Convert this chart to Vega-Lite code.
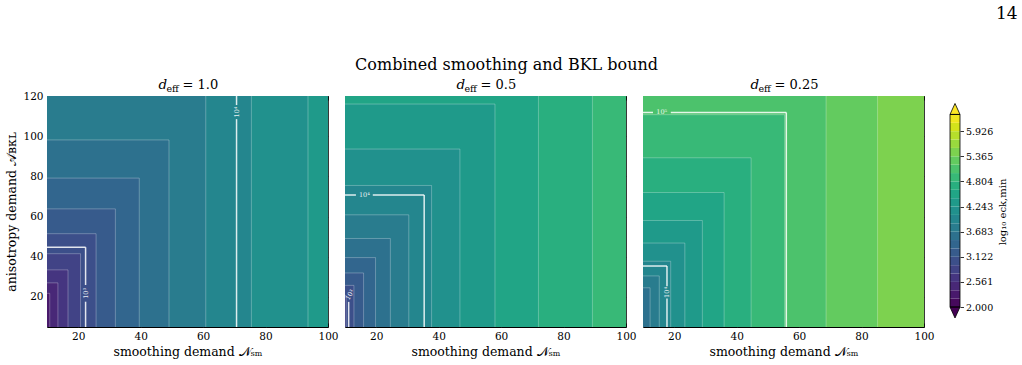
{
  "$schema": "https://vega.github.io/schema/vega-lite/v6.json",
  "background": "white",
  "title": {"text": "14", "anchor": "end", "fontSize": 17, "font": "DejaVu Serif", "fontWeight": "normal", "offset": 34, "dx": 10},
  "config": {
    "font": "DejaVu Serif",
    "view": {"stroke": "black", "strokeWidth": 1},
    "axis": {
      "domain": false,
      "labelFlush": false,
      "labelOverlap": false,
      "tickColor": "black",
      "tickSize": -4,
      "tickWidth": 0.8,
      "labelFont": "DejaVu Serif",
      "labelFontSize": 10.5,
      "labelColor": "black",
      "labelPadding": 8,
      "titleFont": "DejaVu Serif",
      "titleFontSize": 12.5,
      "titleFontWeight": "normal",
      "titleColor": "black",
      "gridColor": "white",
      "gridOpacity": 0.28,
      "gridWidth": 0.8,
      "zindex": 1
    }
  },
  "datasets": {
    "bands": [
      {"p": 1, "n": 100, "a": 120, "v": 4.337},
      {"p": 1, "n": 93.59, "a": 187.2, "v": 4.150},
      {"p": 1, "n": 75.46, "a": 150.9, "v": 3.963},
      {"p": 1, "n": 60.85, "a": 121.7, "v": 3.776},
      {"p": 1, "n": 49.07, "a": 98.13, "v": 3.589},
      {"p": 1, "n": 39.56, "a": 79.13, "v": 3.402},
      {"p": 1, "n": 31.90, "a": 63.81, "v": 3.215},
      {"p": 1, "n": 25.72, "a": 51.45, "v": 3.028},
      {"p": 1, "n": 20.74, "a": 41.49, "v": 2.841},
      {"p": 1, "n": 16.73, "a": 33.45, "v": 2.654},
      {"p": 1, "n": 13.49, "a": 26.98, "v": 2.467},
      {"p": 1, "n": 10.88, "a": 21.75, "v": 2.280},
      {"p": 2, "n": 100, "a": 120, "v": 4.898},
      {"p": 2, "n": 89.25, "a": 178.5, "v": 4.711},
      {"p": 2, "n": 71.96, "a": 143.9, "v": 4.524},
      {"p": 2, "n": 58.03, "a": 116.0, "v": 4.337},
      {"p": 2, "n": 46.80, "a": 93.59, "v": 4.150},
      {"p": 2, "n": 37.73, "a": 75.46, "v": 3.963},
      {"p": 2, "n": 30.43, "a": 60.85, "v": 3.776},
      {"p": 2, "n": 24.53, "a": 49.07, "v": 3.589},
      {"p": 2, "n": 19.78, "a": 39.56, "v": 3.402},
      {"p": 2, "n": 15.95, "a": 31.90, "v": 3.215},
      {"p": 2, "n": 12.86, "a": 25.72, "v": 3.028},
      {"p": 2, "n": 10.37, "a": 20.74, "v": 2.841},
      {"p": 3, "n": 100, "a": 120, "v": 5.459},
      {"p": 3, "n": 85.13, "a": 170.3, "v": 5.272},
      {"p": 3, "n": 68.64, "a": 137.3, "v": 5.085},
      {"p": 3, "n": 55.36, "a": 110.7, "v": 4.898},
      {"p": 3, "n": 44.63, "a": 89.25, "v": 4.711},
      {"p": 3, "n": 35.98, "a": 71.96, "v": 4.524},
      {"p": 3, "n": 29.01, "a": 58.03, "v": 4.337},
      {"p": 3, "n": 23.40, "a": 46.80, "v": 4.150},
      {"p": 3, "n": 18.87, "a": 37.73, "v": 3.963},
      {"p": 3, "n": 15.21, "a": 30.43, "v": 3.776},
      {"p": 3, "n": 12.27, "a": 24.53, "v": 3.589}
    ],
    "decades": [
      {"p": 1, "x1": 10, "x2": 22.36, "y1": 44.72, "y2": 44.72},
      {"p": 1, "x1": 22.36, "x2": 22.36, "y1": 44.72, "y2": 25.9},
      {"p": 1, "x1": 22.36, "x2": 22.36, "y1": 17.6, "y2": 5},
      {"p": 1, "x1": 70.71, "x2": 70.71, "y1": 120, "y2": 115.5},
      {"p": 1, "x1": 70.71, "x2": 70.71, "y1": 108.5, "y2": 5},
      {"p": 2, "x1": 11.18, "x2": 11.18, "y1": 17.5, "y2": 5},
      {"p": 2, "x1": 10, "x2": 13.5, "y1": 70.71, "y2": 70.71},
      {"p": 2, "x1": 18.9, "x2": 35.36, "y1": 70.71, "y2": 70.71},
      {"p": 2, "x1": 35.36, "x2": 35.36, "y1": 70.71, "y2": 5},
      {"p": 3, "x1": 10, "x2": 17.68, "y1": 35.36, "y2": 35.36},
      {"p": 3, "x1": 17.68, "x2": 17.68, "y1": 35.36, "y2": 25.3},
      {"p": 3, "x1": 17.68, "x2": 17.68, "y1": 19.2, "y2": 5},
      {"p": 3, "x1": 10, "x2": 13.2, "y1": 111.8, "y2": 111.8},
      {"p": 3, "x1": 18.9, "x2": 55.9, "y1": 111.8, "y2": 111.8},
      {"p": 3, "x1": 55.9, "x2": 55.9, "y1": 111.8, "y2": 5}
    ],
    "clabels": [
      {"p": 1, "n": 22.36, "a": 21.75, "t": "10³", "dir": "v"},
      {"p": 1, "n": 70.71, "a": 112, "t": "10⁴", "dir": "v"},
      {"p": 2, "n": 11.6, "a": 21, "t": "10³", "dir": "d"},
      {"p": 2, "n": 16.2, "a": 70.71, "t": "10⁴", "dir": "h"},
      {"p": 3, "n": 17.68, "a": 22.2, "t": "10⁴", "dir": "v"},
      {"p": 3, "n": 16, "a": 111.8, "t": "10⁵", "dir": "h"}
    ],
    "cbar": [
      {"lo": 2.0000, "hi": 2.1870, "v": 2.0935},
      {"lo": 2.1870, "hi": 2.3739, "v": 2.2804},
      {"lo": 2.3739, "hi": 2.5609, "v": 2.4674},
      {"lo": 2.5609, "hi": 2.7478, "v": 2.6543},
      {"lo": 2.7478, "hi": 2.9348, "v": 2.8413},
      {"lo": 2.9348, "hi": 3.1217, "v": 3.0283},
      {"lo": 3.1217, "hi": 3.3087, "v": 3.2152},
      {"lo": 3.3087, "hi": 3.4957, "v": 3.4022},
      {"lo": 3.4957, "hi": 3.6826, "v": 3.5891},
      {"lo": 3.6826, "hi": 3.8696, "v": 3.7761},
      {"lo": 3.8696, "hi": 4.0565, "v": 3.9630},
      {"lo": 4.0565, "hi": 4.2434, "v": 4.1500},
      {"lo": 4.2434, "hi": 4.4304, "v": 4.3370},
      {"lo": 4.4304, "hi": 4.6174, "v": 4.5239},
      {"lo": 4.6174, "hi": 4.8043, "v": 4.7109},
      {"lo": 4.8043, "hi": 4.9913, "v": 4.8978},
      {"lo": 4.9913, "hi": 5.1783, "v": 5.0848},
      {"lo": 5.1783, "hi": 5.3652, "v": 5.2717},
      {"lo": 5.3652, "hi": 5.5522, "v": 5.4587},
      {"lo": 5.5522, "hi": 5.7391, "v": 5.6457},
      {"lo": 5.7391, "hi": 5.9261, "v": 5.8326},
      {"lo": 5.9261, "hi": 6.1130, "v": 6.0196},
      {"lo": 6.1130, "hi": 6.3000, "v": 6.2065}
    ],
    "tri_top": [{"x": 0, "t": 6.3}, {"x": 0.5, "t": 6.545}, {"x": 1, "t": 6.3}],
    "tri_bot": [{"x": 0, "t": 2.0}, {"x": 0.5, "t": 1.755}, {"x": 1, "t": 2.0}]
  },
  "hconcat": [
    {
      "title": {"text": "Combined smoothing and BKL bound", "anchor": "middle", "fontSize": 16, "font": "DejaVu Serif", "fontWeight": "normal", "offset": 4.5},
      "spacing": 13,
      "bounds": "full",
      "hconcat": [
        {
          "spacing": 17,
          "bounds": "flush",
          "hconcat": [
            {
              "width": 281, "height": 231,
              "resolve": {"axis": {"x": "independent", "y": "independent"}},
              "layer": [
                {
                  "data": {"name": "bands"},
                  "transform": [{"filter": "datum.p == 1"}],
                  "mark": {"type": "rect", "clip": true},
                  "encoding": {
                    "x": {"field": "n", "type": "quantitative", "scale": {"domain": [10, 100], "nice": false, "zero": false}, "axis": {"orient": "bottom", "values": [20, 40, 60, 80, 100], "grid": true, "title": "smoothing demand 𝒩ₛₘ"}},
                    "x2": {"datum": 10},
                    "y": {"field": "a", "type": "quantitative", "scale": {"domain": [5, 120], "nice": false, "zero": false}, "axis": {"orient": "left", "values": [20, 40, 60, 80, 100, 120], "grid": true, "title": "anisotropy demand 𝒜ʙᴋʟ"}},
                    "y2": {"datum": 5},
                    "color": {"field": "v", "type": "quantitative", "scale": {"scheme": "viridis", "domain": [2, 6.3]}, "legend": null}
                  }
                },
                {
                  "data": {"name": "bands"},
                  "transform": [{"filter": "datum.p == 1 && datum.n < 100"}],
                  "mark": {"type": "rule", "clip": true, "color": "white", "opacity": 0.35, "strokeWidth": 0.8},
                  "encoding": {
                    "x": {"field": "n", "type": "quantitative", "scale": {"domain": [10, 100], "nice": false, "zero": false}, "axis": {"orient": "top", "values": [20, 40, 60, 80, 100], "labels": false, "grid": false, "title": null}},
                    "x2": {"datum": 10},
                    "y": {"field": "a", "type": "quantitative", "scale": {"domain": [5, 120], "nice": false, "zero": false}, "axis": {"orient": "right", "values": [20, 40, 60, 80, 100, 120], "labels": false, "grid": false, "title": null}}
                  }
                },
                {
                  "data": {"name": "bands"},
                  "transform": [{"filter": "datum.p == 1 && datum.n < 100"}],
                  "mark": {"type": "rule", "clip": true, "color": "white", "opacity": 0.35, "strokeWidth": 0.8},
                  "encoding": {
                    "x": {"field": "n", "type": "quantitative", "scale": {"domain": [10, 100], "nice": false, "zero": false}, "axis": null},
                    "y": {"field": "a", "type": "quantitative", "scale": {"domain": [5, 120], "nice": false, "zero": false}, "axis": null},
                    "y2": {"datum": 5}
                  }
                },
                {
                  "data": {"name": "decades"},
                  "transform": [{"filter": "datum.p == 1"}],
                  "mark": {"type": "rule", "clip": true, "color": "white", "opacity": 0.85, "strokeWidth": 1.5},
                  "encoding": {
                    "x": {"field": "x1", "type": "quantitative", "scale": {"domain": [10, 100], "nice": false, "zero": false}, "axis": null},
                    "x2": {"field": "x2"},
                    "y": {"field": "y1", "type": "quantitative", "scale": {"domain": [5, 120], "nice": false, "zero": false}, "axis": null},
                    "y2": {"field": "y2"}
                  }
                },
                {
                  "data": {"name": "clabels"},
                  "transform": [{"filter": "datum.p == 1 && datum.dir == 'v'"}],
                  "mark": {"type": "text", "color": "white", "opacity": 0.9, "fontSize": 6.5, "angle": 270, "align": "center", "baseline": "middle"},
                  "encoding": {
                    "x": {"field": "n", "type": "quantitative", "scale": {"domain": [10, 100], "nice": false, "zero": false}, "axis": null},
                    "y": {"field": "a", "type": "quantitative", "scale": {"domain": [5, 120], "nice": false, "zero": false}, "axis": null},
                    "text": {"field": "t"}
                  }
                },
                {
                  "data": {"values": [{"t": "d", "cx": 55, "cy": 120}]},
                  "mark": {"type": "text", "fontSize": 13.5, "fontStyle": "italic", "align": "left", "baseline": "alphabetic", "dx": -29, "dy": -7},
                  "encoding": {
                    "x": {"field": "cx", "type": "quantitative", "scale": {"domain": [10, 100], "nice": false, "zero": false}, "axis": null},
                    "y": {"field": "cy", "type": "quantitative", "scale": {"domain": [5, 120], "nice": false, "zero": false}, "axis": null},
                    "text": {"field": "t"}
                  }
                },
                {
                  "data": {"values": [{"t": "eff", "cx": 55, "cy": 120}]},
                  "mark": {"type": "text", "fontSize": 9.5, "align": "left", "baseline": "alphabetic", "dx": -21, "dy": -4},
                  "encoding": {
                    "x": {"field": "cx", "type": "quantitative", "scale": {"domain": [10, 100], "nice": false, "zero": false}, "axis": null},
                    "y": {"field": "cy", "type": "quantitative", "scale": {"domain": [5, 120], "nice": false, "zero": false}, "axis": null},
                    "text": {"field": "t"}
                  }
                },
                {
                  "data": {"values": [{"t": "= 1.0", "cx": 55, "cy": 120}]},
                  "mark": {"type": "text", "fontSize": 13, "align": "left", "baseline": "alphabetic", "dx": -5, "dy": -7},
                  "encoding": {
                    "x": {"field": "cx", "type": "quantitative", "scale": {"domain": [10, 100], "nice": false, "zero": false}, "axis": null},
                    "y": {"field": "cy", "type": "quantitative", "scale": {"domain": [5, 120], "nice": false, "zero": false}, "axis": null},
                    "text": {"field": "t"}
                  }
                }
              ]
            },
            {
              "width": 281, "height": 231,
              "resolve": {"axis": {"x": "independent", "y": "independent"}},
              "layer": [
                {
                  "data": {"name": "bands"},
                  "transform": [{"filter": "datum.p == 2"}],
                  "mark": {"type": "rect", "clip": true},
                  "encoding": {
                    "x": {"field": "n", "type": "quantitative", "scale": {"domain": [10, 100], "nice": false, "zero": false}, "axis": {"orient": "bottom", "values": [20, 40, 60, 80, 100], "grid": true, "title": "smoothing demand 𝒩ₛₘ"}},
                    "x2": {"datum": 10},
                    "y": {"field": "a", "type": "quantitative", "scale": {"domain": [5, 120], "nice": false, "zero": false}, "axis": {"orient": "left", "values": [20, 40, 60, 80, 100, 120], "grid": true, "labels": false, "title": null}},
                    "y2": {"datum": 5},
                    "color": {"field": "v", "type": "quantitative", "scale": {"scheme": "viridis", "domain": [2, 6.3]}, "legend": null}
                  }
                },
                {
                  "data": {"name": "bands"},
                  "transform": [{"filter": "datum.p == 2 && datum.n < 100"}],
                  "mark": {"type": "rule", "clip": true, "color": "white", "opacity": 0.35, "strokeWidth": 0.8},
                  "encoding": {
                    "x": {"field": "n", "type": "quantitative", "scale": {"domain": [10, 100], "nice": false, "zero": false}, "axis": {"orient": "top", "values": [20, 40, 60, 80, 100], "labels": false, "grid": false, "title": null}},
                    "x2": {"datum": 10},
                    "y": {"field": "a", "type": "quantitative", "scale": {"domain": [5, 120], "nice": false, "zero": false}, "axis": {"orient": "right", "values": [20, 40, 60, 80, 100, 120], "labels": false, "grid": false, "title": null}}
                  }
                },
                {
                  "data": {"name": "bands"},
                  "transform": [{"filter": "datum.p == 2 && datum.n < 100"}],
                  "mark": {"type": "rule", "clip": true, "color": "white", "opacity": 0.35, "strokeWidth": 0.8},
                  "encoding": {
                    "x": {"field": "n", "type": "quantitative", "scale": {"domain": [10, 100], "nice": false, "zero": false}, "axis": null},
                    "y": {"field": "a", "type": "quantitative", "scale": {"domain": [5, 120], "nice": false, "zero": false}, "axis": null},
                    "y2": {"datum": 5}
                  }
                },
                {
                  "data": {"name": "decades"},
                  "transform": [{"filter": "datum.p == 2"}],
                  "mark": {"type": "rule", "clip": true, "color": "white", "opacity": 0.85, "strokeWidth": 1.5},
                  "encoding": {
                    "x": {"field": "x1", "type": "quantitative", "scale": {"domain": [10, 100], "nice": false, "zero": false}, "axis": null},
                    "x2": {"field": "x2"},
                    "y": {"field": "y1", "type": "quantitative", "scale": {"domain": [5, 120], "nice": false, "zero": false}, "axis": null},
                    "y2": {"field": "y2"}
                  }
                },
                {
                  "data": {"name": "clabels"},
                  "transform": [{"filter": "datum.p == 2 && datum.dir == 'h'"}],
                  "mark": {"type": "text", "color": "white", "opacity": 0.9, "fontSize": 6.5, "angle": 0, "align": "center", "baseline": "middle"},
                  "encoding": {
                    "x": {"field": "n", "type": "quantitative", "scale": {"domain": [10, 100], "nice": false, "zero": false}, "axis": null},
                    "y": {"field": "a", "type": "quantitative", "scale": {"domain": [5, 120], "nice": false, "zero": false}, "axis": null},
                    "text": {"field": "t"}
                  }
                },
                {
                  "data": {"name": "clabels"},
                  "transform": [{"filter": "datum.p == 2 && datum.dir == 'd'"}],
                  "mark": {"type": "text", "color": "white", "opacity": 0.9, "fontSize": 6.5, "angle": 300, "align": "center", "baseline": "middle"},
                  "encoding": {
                    "x": {"field": "n", "type": "quantitative", "scale": {"domain": [10, 100], "nice": false, "zero": false}, "axis": null},
                    "y": {"field": "a", "type": "quantitative", "scale": {"domain": [5, 120], "nice": false, "zero": false}, "axis": null},
                    "text": {"field": "t"}
                  }
                },
                {
                  "data": {"values": [{"t": "d", "cx": 55, "cy": 120}]},
                  "mark": {"type": "text", "fontSize": 13.5, "fontStyle": "italic", "align": "left", "baseline": "alphabetic", "dx": -29, "dy": -7},
                  "encoding": {
                    "x": {"field": "cx", "type": "quantitative", "scale": {"domain": [10, 100], "nice": false, "zero": false}, "axis": null},
                    "y": {"field": "cy", "type": "quantitative", "scale": {"domain": [5, 120], "nice": false, "zero": false}, "axis": null},
                    "text": {"field": "t"}
                  }
                },
                {
                  "data": {"values": [{"t": "eff", "cx": 55, "cy": 120}]},
                  "mark": {"type": "text", "fontSize": 9.5, "align": "left", "baseline": "alphabetic", "dx": -21, "dy": -4},
                  "encoding": {
                    "x": {"field": "cx", "type": "quantitative", "scale": {"domain": [10, 100], "nice": false, "zero": false}, "axis": null},
                    "y": {"field": "cy", "type": "quantitative", "scale": {"domain": [5, 120], "nice": false, "zero": false}, "axis": null},
                    "text": {"field": "t"}
                  }
                },
                {
                  "data": {"values": [{"t": "= 0.5", "cx": 55, "cy": 120}]},
                  "mark": {"type": "text", "fontSize": 13, "align": "left", "baseline": "alphabetic", "dx": -5, "dy": -7},
                  "encoding": {
                    "x": {"field": "cx", "type": "quantitative", "scale": {"domain": [10, 100], "nice": false, "zero": false}, "axis": null},
                    "y": {"field": "cy", "type": "quantitative", "scale": {"domain": [5, 120], "nice": false, "zero": false}, "axis": null},
                    "text": {"field": "t"}
                  }
                }
              ]
            },
            {
              "width": 281, "height": 231,
              "resolve": {"axis": {"x": "independent", "y": "independent"}},
              "layer": [
                {
                  "data": {"name": "bands"},
                  "transform": [{"filter": "datum.p == 3"}],
                  "mark": {"type": "rect", "clip": true},
                  "encoding": {
                    "x": {"field": "n", "type": "quantitative", "scale": {"domain": [10, 100], "nice": false, "zero": false}, "axis": {"orient": "bottom", "values": [20, 40, 60, 80, 100], "grid": true, "title": "smoothing demand 𝒩ₛₘ"}},
                    "x2": {"datum": 10},
                    "y": {"field": "a", "type": "quantitative", "scale": {"domain": [5, 120], "nice": false, "zero": false}, "axis": {"orient": "left", "values": [20, 40, 60, 80, 100, 120], "grid": true, "labels": false, "title": null}},
                    "y2": {"datum": 5},
                    "color": {"field": "v", "type": "quantitative", "scale": {"scheme": "viridis", "domain": [2, 6.3]}, "legend": null}
                  }
                },
                {
                  "data": {"name": "bands"},
                  "transform": [{"filter": "datum.p == 3 && datum.n < 100"}],
                  "mark": {"type": "rule", "clip": true, "color": "white", "opacity": 0.35, "strokeWidth": 0.8},
                  "encoding": {
                    "x": {"field": "n", "type": "quantitative", "scale": {"domain": [10, 100], "nice": false, "zero": false}, "axis": {"orient": "top", "values": [20, 40, 60, 80, 100], "labels": false, "grid": false, "title": null}},
                    "x2": {"datum": 10},
                    "y": {"field": "a", "type": "quantitative", "scale": {"domain": [5, 120], "nice": false, "zero": false}, "axis": {"orient": "right", "values": [20, 40, 60, 80, 100, 120], "labels": false, "grid": false, "title": null}}
                  }
                },
                {
                  "data": {"name": "bands"},
                  "transform": [{"filter": "datum.p == 3 && datum.n < 100"}],
                  "mark": {"type": "rule", "clip": true, "color": "white", "opacity": 0.35, "strokeWidth": 0.8},
                  "encoding": {
                    "x": {"field": "n", "type": "quantitative", "scale": {"domain": [10, 100], "nice": false, "zero": false}, "axis": null},
                    "y": {"field": "a", "type": "quantitative", "scale": {"domain": [5, 120], "nice": false, "zero": false}, "axis": null},
                    "y2": {"datum": 5}
                  }
                },
                {
                  "data": {"name": "decades"},
                  "transform": [{"filter": "datum.p == 3"}],
                  "mark": {"type": "rule", "clip": true, "color": "white", "opacity": 0.85, "strokeWidth": 1.5},
                  "encoding": {
                    "x": {"field": "x1", "type": "quantitative", "scale": {"domain": [10, 100], "nice": false, "zero": false}, "axis": null},
                    "x2": {"field": "x2"},
                    "y": {"field": "y1", "type": "quantitative", "scale": {"domain": [5, 120], "nice": false, "zero": false}, "axis": null},
                    "y2": {"field": "y2"}
                  }
                },
                {
                  "data": {"name": "clabels"},
                  "transform": [{"filter": "datum.p == 3 && datum.dir == 'v'"}],
                  "mark": {"type": "text", "color": "white", "opacity": 0.9, "fontSize": 6.5, "angle": 270, "align": "center", "baseline": "middle"},
                  "encoding": {
                    "x": {"field": "n", "type": "quantitative", "scale": {"domain": [10, 100], "nice": false, "zero": false}, "axis": null},
                    "y": {"field": "a", "type": "quantitative", "scale": {"domain": [5, 120], "nice": false, "zero": false}, "axis": null},
                    "text": {"field": "t"}
                  }
                },
                {
                  "data": {"name": "clabels"},
                  "transform": [{"filter": "datum.p == 3 && datum.dir == 'h'"}],
                  "mark": {"type": "text", "color": "white", "opacity": 0.9, "fontSize": 6.5, "angle": 0, "align": "center", "baseline": "middle"},
                  "encoding": {
                    "x": {"field": "n", "type": "quantitative", "scale": {"domain": [10, 100], "nice": false, "zero": false}, "axis": null},
                    "y": {"field": "a", "type": "quantitative", "scale": {"domain": [5, 120], "nice": false, "zero": false}, "axis": null},
                    "text": {"field": "t"}
                  }
                },
                {
                  "data": {"values": [{"t": "d", "cx": 55, "cy": 120}]},
                  "mark": {"type": "text", "fontSize": 13.5, "fontStyle": "italic", "align": "left", "baseline": "alphabetic", "dx": -33, "dy": -7},
                  "encoding": {
                    "x": {"field": "cx", "type": "quantitative", "scale": {"domain": [10, 100], "nice": false, "zero": false}, "axis": null},
                    "y": {"field": "cy", "type": "quantitative", "scale": {"domain": [5, 120], "nice": false, "zero": false}, "axis": null},
                    "text": {"field": "t"}
                  }
                },
                {
                  "data": {"values": [{"t": "eff", "cx": 55, "cy": 120}]},
                  "mark": {"type": "text", "fontSize": 9.5, "align": "left", "baseline": "alphabetic", "dx": -25, "dy": -4},
                  "encoding": {
                    "x": {"field": "cx", "type": "quantitative", "scale": {"domain": [10, 100], "nice": false, "zero": false}, "axis": null},
                    "y": {"field": "cy", "type": "quantitative", "scale": {"domain": [5, 120], "nice": false, "zero": false}, "axis": null},
                    "text": {"field": "t"}
                  }
                },
                {
                  "data": {"values": [{"t": "= 0.25", "cx": 55, "cy": 120}]},
                  "mark": {"type": "text", "fontSize": 13, "align": "left", "baseline": "alphabetic", "dx": -9, "dy": -7},
                  "encoding": {
                    "x": {"field": "cx", "type": "quantitative", "scale": {"domain": [10, 100], "nice": false, "zero": false}, "axis": null},
                    "y": {"field": "cy", "type": "quantitative", "scale": {"domain": [5, 120], "nice": false, "zero": false}, "axis": null},
                    "text": {"field": "t"}
                  }
                }
              ]
            }
          ]
        },
        {
          "width": 10, "height": 231,
          "view": {"stroke": null},
          "resolve": {"axis": {"x": "independent", "y": "independent"}},
          "layer": [
            {
              "data": {"name": "cbar"},
              "mark": "rect",
              "encoding": {
                "y": {"field": "lo", "type": "quantitative", "scale": {"domain": [1.554, 6.712], "nice": false, "zero": false}, "axis": {"orient": "right", "values": [2.0, 2.5609, 3.1217, 3.6826, 4.2434, 4.8043, 5.3652, 5.9261], "format": ".3f", "labelOverlap": false, "tickSize": 3.5, "labelPadding": 2, "grid": false, "title": "log₁₀ eck,min", "titleFontSize": 10, "titleAngle": 270, "titleBaseline": "top", "titlePadding": 5, "labelFontSize": 9.5}},
                "y2": {"field": "hi"},
                "color": {"field": "v", "type": "quantitative", "scale": {"scheme": "viridis", "domain": [2, 6.3]}, "legend": null}
              }
            },
            {
              "data": {"name": "tri_top"},
              "mark": {"type": "area", "color": "#fde725", "stroke": "black", "strokeWidth": 0.8},
              "encoding": {
                "x": {"field": "x", "type": "quantitative", "scale": {"domain": [0, 1], "nice": false, "zero": false}, "axis": null},
                "y": {"field": "t", "type": "quantitative", "scale": {"domain": [1.554, 6.712], "nice": false, "zero": false}, "axis": null},
                "y2": {"datum": 6.3}
              }
            },
            {
              "data": {"name": "tri_bot"},
              "mark": {"type": "area", "color": "#440154", "stroke": "black", "strokeWidth": 0.8},
              "encoding": {
                "x": {"field": "x", "type": "quantitative", "scale": {"domain": [0, 1], "nice": false, "zero": false}, "axis": null},
                "y": {"field": "t", "type": "quantitative", "scale": {"domain": [1.554, 6.712], "nice": false, "zero": false}, "axis": null},
                "y2": {"datum": 2.0}
              }
            },
            {
              "data": {"values": [{"lo": 2.0, "hi": 6.3}]},
              "mark": {"type": "rect", "fillOpacity": 0, "stroke": "black", "strokeWidth": 0.8},
              "encoding": {
                "y": {"field": "lo", "type": "quantitative", "scale": {"domain": [1.554, 6.712], "nice": false, "zero": false}, "axis": null},
                "y2": {"field": "hi"}
              }
            }
          ]
        }
      ]
    }
  ]
}
